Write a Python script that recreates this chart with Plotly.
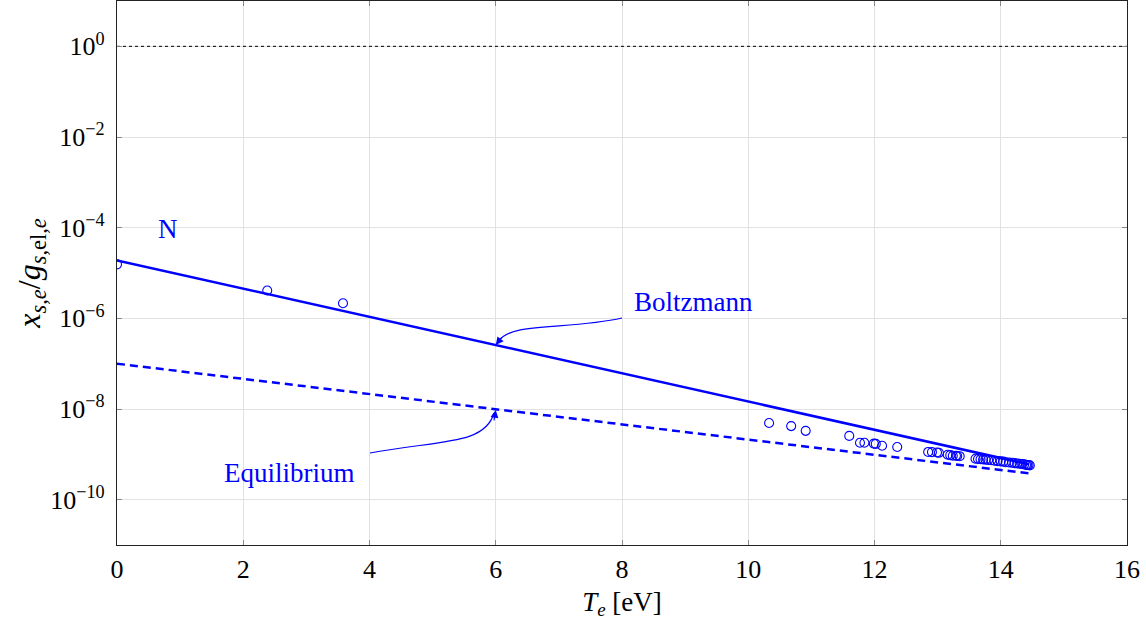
import plotly.graph_objects as go

# ---- data ----
line_x = [0.0, 14.45]
boltzmann_y = [1.9e-5, 6.0e-10]
equilibrium_y = [1.0e-7, 3.8e-10]

pts_x = [0.0, 2.38, 3.58, 10.33, 10.68, 10.91, 11.60, 11.77, 11.84, 11.99, 12.02, 12.12, 12.36,
         12.85, 12.91, 12.99, 13.02, 13.16, 13.20, 13.24, 13.29, 13.31, 13.35,
         13.60, 13.64, 13.68, 13.72, 13.76, 13.80, 13.85, 13.90, 13.95, 14.00, 14.04,
         14.08, 14.13, 14.18, 14.22, 14.26, 14.30, 14.34, 14.37, 14.40, 14.42, 14.44, 14.46]
pts_y = [1.55e-5, 4.1e-6, 2.15e-6, 4.9e-9, 4.2e-9, 3.3e-9, 2.55e-9, 1.8e-9, 1.8e-9, 1.72e-9, 1.7e-9, 1.55e-9, 1.45e-9,
         1.13e-9, 1.12e-9, 1.1e-9, 1.08e-9, 9.8e-10, 9.6e-10, 9.3e-10, 9.3e-10, 9.2e-10, 9.1e-10,
         8.0e-10, 7.9e-10, 7.8e-10, 7.7e-10, 7.6e-10, 7.5e-10, 7.4e-10, 7.2e-10, 7.1e-10, 7.0e-10, 6.9e-10,
         6.7e-10, 6.6e-10, 6.5e-10, 6.4e-10, 6.3e-10, 6.2e-10, 6.1e-10, 6.0e-10, 5.9e-10, 5.8e-10, 5.8e-10, 5.7e-10]

x_ticks = [0, 2, 4, 6, 8, 10, 12, 14, 16]
y_ticks = [1e-10, 1e-8, 1e-6, 1e-4, 1e-2, 1e0]
y_tick_text = ["10<sup>−10</sup>", "10<sup>−8</sup>", "10<sup>−6</sup>", "10<sup>−4</sup>", "10<sup>−2</sup>", "10<sup>0</sup>"]

BLUE = "#0000FF"
FONT = "Liberation Serif, DejaVu Serif, Times New Roman, serif"
FS = 26
FA = 27

fig = go.Figure()
fig.add_trace(go.Scatter(x=[0, 16], y=[1, 1], mode="lines",
                         line=dict(color="black", width=1, dash="dot"), showlegend=False, hoverinfo="skip"))
fig.add_trace(go.Scatter(x=line_x, y=equilibrium_y, mode="lines",
                         line=dict(color=BLUE, width=2.5, dash="8px,5px"), showlegend=False))
fig.add_trace(go.Scatter(x=line_x, y=boltzmann_y, mode="lines",
                         line=dict(color=BLUE, width=2.5), showlegend=False))
fig.add_trace(go.Scatter(x=pts_x, y=pts_y, mode="markers",
                         marker=dict(symbol="circle-open", size=9, color=BLUE, line=dict(width=1.1)),
                         showlegend=False))

L, R, T, B = 117, 19, 1, 82
W, H = 1146, 627
pw, ph = W - L - R, H - T - B


def px(x):
    return (x - L) / pw


def py(y):
    return (H - B - y) / ph


def bez(p0, p1, p2, p3):
    return "M {} {} C {} {}, {} {}, {} {}".format(
        px(p0[0]), py(p0[1]), px(p1[0]), py(p1[1]), px(p2[0]), py(p2[1]), px(p3[0]), py(p3[1]))


shapes = [
    dict(type="path", xref="paper", yref="paper",
         path=bez((622, 318), (570, 330), (510, 322), (499, 341)),
         line=dict(color=BLUE, width=1.2)),
    dict(type="path", xref="paper", yref="paper",
         path=bez((370, 453), (440, 440), (485, 445), (494, 413)),
         line=dict(color=BLUE, width=1.2)),
]

annotations = [
    dict(x=0.81, y=-4.02, xref="x", yref="y", text="N", showarrow=False,
         font=dict(family=FONT, size=FA, color=BLUE)),
    dict(x=9.14, y=-5.63, xref="x", yref="y", text="Boltzmann", showarrow=False,
         font=dict(family=FONT, size=FA, color=BLUE)),
    dict(x=2.74, y=-9.41, xref="x", yref="y", text="Equilibrium", showarrow=False,
         font=dict(family=FONT, size=FA, color=BLUE)),
    dict(x=6.0, y=-6.59, xref="x", yref="y", text="", showarrow=True, ax=7, ay=-9,
         arrowhead=2, arrowsize=1.3, arrowwidth=1.2, arrowcolor=BLUE),
    dict(x=6.0, y=-8.02, xref="x", yref="y", text="", showarrow=True, ax=-2, ay=12,
         arrowhead=2, arrowsize=1.3, arrowwidth=1.2, arrowcolor=BLUE),
]

axis_common = dict(showgrid=True, gridcolor="#e2e2e2", gridwidth=1,
                   showline=True, linecolor="#222222", linewidth=1.2, mirror="allticks",
                   ticks="inside", ticklen=5, tickcolor="#888888", zeroline=False,
                   tickfont=dict(family=FONT, size=FS, color="black"))

fig.update_layout(
    width=W, height=H,
    margin=dict(l=L, r=R, t=T, b=B),
    plot_bgcolor="white", paper_bgcolor="white",
    font=dict(family=FONT, size=FS, color="black"),
    xaxis=dict(range=[0, 16], tickvals=x_ticks, ticklabelstandoff=1,
               title=dict(text="<i>T</i><sub><i>e</i></sub> [eV]", font=dict(family=FONT, size=27, color="black"),
                          standoff=8),
               **axis_common),
    yaxis=dict(type="log", range=[-11, 1], tickvals=y_ticks, ticktext=y_tick_text, ticklabelstandoff=6,
               title=dict(text="<i>x</i><sub><i>s</i>,<i>e</i></sub>/<i>g</i><sub><i>s</i>,el,<i>e</i></sub>",
                          font=dict(family=FONT, size=32, color="black"), standoff=0),
               **axis_common),
    shapes=shapes,
    annotations=annotations,
)

fig.write_html("out.html", config={"displayModeBar": False},
               post_script="document.body.style.margin='0';")
